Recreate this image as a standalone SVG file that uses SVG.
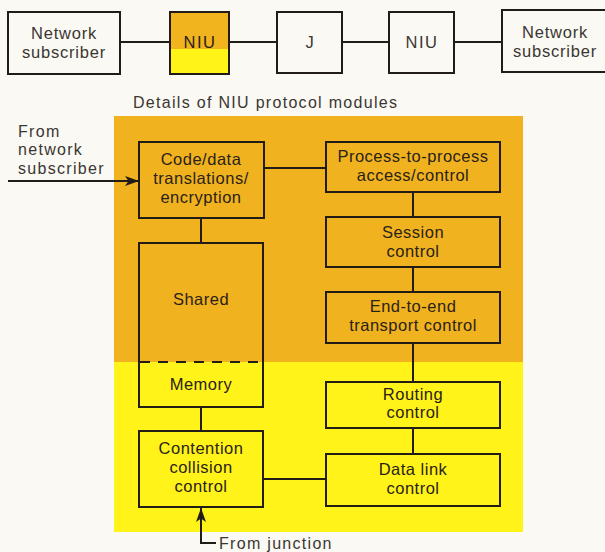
<svg xmlns="http://www.w3.org/2000/svg" width="605" height="552" viewBox="0 0 605 552">
  <defs>
    <style>
      .box { fill: none; stroke: #221c16; stroke-width: 2; }
      .plain { fill: #fbf9f4; stroke: #221c16; stroke-width: 2; }
      .wire { fill: none; stroke: #221c16; stroke-width: 2; }
      text { font-family: "Liberation Sans", Arial, sans-serif; font-size: 16.5px; fill: #2a2218; letter-spacing: 0.5px; }
      .c { text-anchor: middle; }
      .top { fill: #3a3632; font-size: 16.5px; letter-spacing: 0.8px; }
      .lbl { fill: #3a3632; font-size: 16px; letter-spacing: 1.3px; }
    </style>
    <marker id="arrow" viewBox="0 0 14 10" refX="14" refY="5" markerWidth="14" markerHeight="10" markerUnits="userSpaceOnUse" orient="auto">
      <path d="M0,0 L14,5 L0,10 L3.5,5 Z" fill="#221c16"/>
    </marker>
  </defs>

  <!-- page -->
  <rect x="0" y="0" width="605" height="552" fill="#fbf9f4"/>

  <!-- top row: end-to-end path through the network -->
  <g id="connectors-top">
    <line class="wire" x1="120" y1="42" x2="170" y2="42"/>
    <line class="wire" x1="229" y1="42" x2="277" y2="42"/>
    <line class="wire" x1="342" y1="42" x2="389" y2="42"/>
    <line class="wire" x1="454" y1="42" x2="502" y2="42"/>
  </g>
  <g id="subscriber-left">
    <rect class="plain" x="8" y="12" width="112" height="62"/>
    <text class="c top" x="64" y="39">Network</text>
    <text class="c top" x="64" y="58">subscriber</text>
  </g>
  <g id="niu-left">
    <rect x="170" y="12" width="59" height="37" fill="#f2b41e"/>
    <rect x="170" y="49" width="59" height="25" fill="#fff318"/>
    <rect class="box" x="170" y="12" width="59" height="62"/>
    <text class="c" x="200" y="48" style="letter-spacing:1.5px">NIU</text>
  </g>
  <g id="junction">
    <rect class="plain" x="277" y="12" width="65" height="61"/>
    <text class="c top" x="310" y="48">J</text>
  </g>
  <g id="niu-right">
    <rect class="plain" x="389" y="12" width="65" height="61"/>
    <text class="c top" x="422" y="48" style="letter-spacing:1.5px">NIU</text>
  </g>
  <g id="subscriber-right">
    <rect class="plain" x="502" y="10" width="110" height="62"/>
    <text class="c top" x="555" y="38">Network</text>
    <text class="c top" x="555" y="57">subscriber</text>
  </g>

  <!-- module detail panel -->
  <text class="lbl" x="133" y="108">Details of NIU protocol modules</text>
  <rect x="114" y="116" width="409" height="246" fill="#f0b21f"/>
  <rect x="114" y="362" width="409" height="170" fill="#fff31a"/>

  <g id="connectors">
    <line class="wire" x1="264" y1="168" x2="326" y2="168"/>
    <line class="wire" x1="413" y1="192" x2="413" y2="217"/>
    <line class="wire" x1="413" y1="267" x2="413" y2="292"/>
    <line class="wire" x1="413" y1="343" x2="413" y2="382"/>
    <line class="wire" x1="413" y1="428" x2="413" y2="454"/>
    <line class="wire" x1="201" y1="218" x2="201" y2="243"/>
    <line class="wire" x1="201" y1="407" x2="201" y2="431"/>
    <line class="wire" x1="263" y1="479" x2="326" y2="479"/>
    <line class="wire" x1="8" y1="181" x2="139" y2="181" marker-end="url(#arrow)"/>
    <path class="wire" d="M216,543 L201,543 L201,508" marker-end="url(#arrow)"/>
  </g>

  <text class="lbl" x="18" y="137">From</text>
  <text class="lbl" x="18" y="155">network</text>
  <text class="lbl" x="18" y="174">subscriber</text>
  <text class="lbl" x="219" y="549">From junction</text>

  <g id="code-translation">
    <rect class="box" x="139" y="142" width="125" height="76"/>
    <text class="c" x="201" y="165">Code/data</text>
    <text class="c" x="201" y="184">translations/</text>
    <text class="c" x="201" y="203">encryption</text>
  </g>
  <g id="shared-memory">
    <rect class="box" x="139" y="243" width="124" height="164"/>
    <line x1="140" y1="362" x2="262" y2="362" stroke="#221c16" stroke-width="2" stroke-dasharray="10 8"/>
    <text class="c" x="201" y="305">Shared</text>
    <text class="c" x="201" y="390">Memory</text>
  </g>
  <g id="contention-control">
    <rect class="box" x="139" y="431" width="124" height="76"/>
    <text class="c" x="201" y="454">Contention</text>
    <text class="c" x="201" y="473">collision</text>
    <text class="c" x="201" y="492">control</text>
  </g>
  <g id="process-control">
    <rect class="box" x="326" y="142" width="174" height="50"/>
    <text class="c" x="413" y="162">Process-to-process</text>
    <text class="c" x="413" y="181">access/control</text>
  </g>
  <g id="session-control">
    <rect class="box" x="326" y="217" width="174" height="50"/>
    <text class="c" x="413" y="238">Session</text>
    <text class="c" x="413" y="257">control</text>
  </g>
  <g id="transport-control">
    <rect class="box" x="326" y="292" width="174" height="51"/>
    <text class="c" x="413" y="312">End-to-end</text>
    <text class="c" x="413" y="331">transport control</text>
  </g>
  <g id="routing-control">
    <rect class="box" x="326" y="382" width="174" height="46"/>
    <text class="c" x="413" y="400">Routing</text>
    <text class="c" x="413" y="418">control</text>
  </g>
  <g id="data-link-control">
    <rect class="box" x="326" y="454" width="174" height="52"/>
    <text class="c" x="413" y="475">Data link</text>
    <text class="c" x="413" y="494">control</text>
  </g>
</svg>
